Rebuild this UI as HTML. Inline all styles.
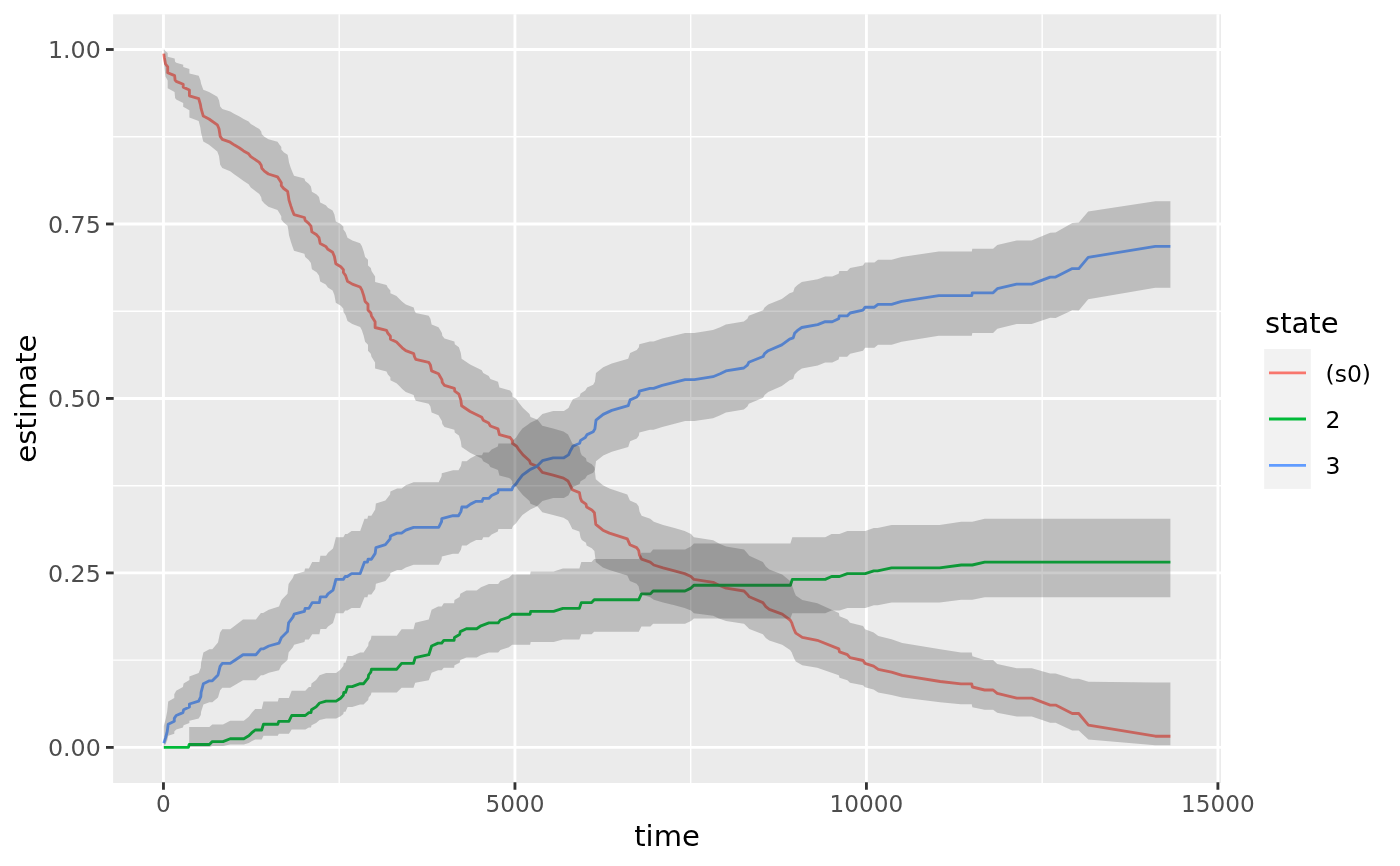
<!DOCTYPE html>
<html><head><meta charset="utf-8"><title>plot</title>
<style>
html,body{margin:0;padding:0;background:#fff;}
body{width:1400px;height:866px;overflow:hidden;}
svg{display:block;}
text{font-family:"DejaVu Sans","Liberation Sans",sans-serif;}
.tk{font-size:23.47px;fill:#4d4d4d;}
.lg{font-size:23.47px;fill:#000;}
.ti{font-size:29.33px;fill:#000;}
</style></head><body>
<svg width="1400" height="866" viewBox="0 0 1400 866">
<rect x="0" y="0" width="1400" height="866" fill="#ffffff"/>
<rect x="113.1" y="14.3" width="1107.9" height="768.6500000000001" fill="#ebebeb"/>
<line x1="113.1" x2="1221.0" y1="660.16" y2="660.16" stroke="#fff" stroke-width="1.42"/>
<line x1="113.1" x2="1221.0" y1="485.69" y2="485.69" stroke="#fff" stroke-width="1.42"/>
<line x1="113.1" x2="1221.0" y1="311.21" y2="311.21" stroke="#fff" stroke-width="1.42"/>
<line x1="113.1" x2="1221.0" y1="136.74" y2="136.74" stroke="#fff" stroke-width="1.42"/>
<line y1="14.3" y2="782.95" x1="339.20" x2="339.20" stroke="#fff" stroke-width="1.42"/>
<line y1="14.3" y2="782.95" x1="690.68" x2="690.68" stroke="#fff" stroke-width="1.42"/>
<line y1="14.3" y2="782.95" x1="1042.16" x2="1042.16" stroke="#fff" stroke-width="1.42"/>
<line x1="113.1" x2="1221.0" y1="747.40" y2="747.40" stroke="#fff" stroke-width="2.85"/>
<line x1="113.1" x2="1221.0" y1="572.92" y2="572.92" stroke="#fff" stroke-width="2.85"/>
<line x1="113.1" x2="1221.0" y1="398.45" y2="398.45" stroke="#fff" stroke-width="2.85"/>
<line x1="113.1" x2="1221.0" y1="223.98" y2="223.98" stroke="#fff" stroke-width="2.85"/>
<line x1="113.1" x2="1221.0" y1="49.50" y2="49.50" stroke="#fff" stroke-width="2.85"/>
<line y1="14.3" y2="782.95" x1="163.46" x2="163.46" stroke="#fff" stroke-width="2.85"/>
<line y1="14.3" y2="782.95" x1="514.94" x2="514.94" stroke="#fff" stroke-width="2.85"/>
<line y1="14.3" y2="782.95" x1="866.42" x2="866.42" stroke="#fff" stroke-width="2.85"/>
<line y1="14.3" y2="782.95" x1="1217.90" x2="1217.90" stroke="#fff" stroke-width="2.85"/>
<path d="M163.8,53.6 L164.3,57.2 L165.5,64.0 L167.7,66.9 L167.7,72.7 L174.6,75.6 L175.1,80.1 L176.2,81.4 L183.2,84.3 L183.2,87.1 L189.4,90.0 L189.4,95.8 L198.7,98.7 L200.4,104.5 L201.1,108.7 L203.3,116.1 L209.0,119.0 L217.3,124.8 L219.0,128.8 L220.2,136.4 L222.3,139.3 L230.2,142.2 L234.5,145.1 L239.5,148.0 L243.6,150.9 L248.6,153.8 L250.8,156.6 L259.3,162.4 L261.2,165.3 L261.8,168.2 L264.4,171.1 L268.4,174.0 L277.5,176.9 L279.4,179.8 L281.3,182.7 L281.3,185.6 L283.7,188.5 L287.6,191.4 L288.4,195.9 L289.0,200.1 L290.8,205.9 L292.3,210.2 L294.0,214.6 L304.4,217.5 L305.2,220.4 L308.7,223.3 L310.9,226.1 L311.9,231.9 L316.6,234.8 L319.0,237.7 L320.2,243.5 L325.8,246.4 L327.9,249.3 L332.6,252.2 L334.4,256.5 L335.8,263.8 L340.8,266.7 L343.4,269.6 L343.4,272.5 L345.5,275.4 L347.5,281.2 L352.3,284.1 L360.1,287.0 L361.8,289.9 L363.7,295.6 L365.1,301.4 L368.0,304.3 L368.0,310.1 L370.8,313.0 L371.5,315.9 L375.1,321.7 L375.1,327.5 L386.5,330.4 L387.9,333.3 L390.4,336.2 L390.4,339.1 L396.5,342.0 L399.4,344.9 L402.2,347.8 L405.8,350.7 L413.7,353.6 L414.4,356.5 L415.8,359.4 L428.7,362.3 L430.4,365.1 L431.6,370.9 L438.5,373.8 L440.2,376.7 L441.9,379.6 L442.3,382.5 L444.5,385.4 L454.4,388.3 L454.8,391.2 L458.9,394.1 L460.8,399.9 L461.6,405.7 L470.1,411.5 L481.8,417.3 L483.2,420.2 L488.7,423.1 L490.4,426.0 L498.0,428.9 L499.4,434.6 L510.1,437.5 L512.3,440.4 L512.3,443.3 L516.6,446.2 L518.4,449.1 L523.0,454.9 L529.5,460.7 L530.5,463.6 L537.6,466.5 L542.3,472.3 L553.1,475.2 L563.5,478.1 L568.0,481.0 L570.0,484.8 L572.3,489.7 L579.4,492.6 L580.5,498.4 L581.8,501.3 L586.0,504.1 L586.6,507.0 L591.8,509.9 L594.4,512.8 L595.8,524.4 L602.9,530.2 L609.4,533.1 L627.3,538.9 L629.9,544.7 L636.6,547.6 L638.7,550.5 L639.5,555.2 L641.6,559.2 L650.2,562.1 L653.8,565.0 L663.1,567.9 L674.5,570.8 L684.6,573.6 L691.0,576.5 L693.9,579.4 L713.2,582.3 L718.9,585.2 L726.1,588.1 L744.0,591.0 L746.9,593.9 L749.3,596.8 L762.9,602.6 L765.8,606.6 L769.3,609.4 L782.2,614.2 L790.1,620.0 L791.8,622.9 L792.7,625.8 L794.4,630.2 L795.8,633.1 L802.3,637.4 L817.3,640.3 L838.8,648.9 L839.5,651.8 L847.4,654.7 L850.0,657.6 L863.1,660.5 L865.0,663.4 L873.6,666.1 L878.3,669.4 L891.5,672.2 L902.2,675.4 L940.2,681.5 L960.9,683.9 L971.7,683.9 L972.4,687.0 L984.6,690.0 L993.1,690.0 L997.2,693.3 L1016.8,698.1 L1031.8,698.1 L1050.2,705.1 L1055.6,705.1 L1072.2,713.5 L1078.7,713.5 L1088.4,725.2 L1155.3,736.2 L1170.4,736.2" fill="none" stroke="#F8766D" stroke-width="2.85" stroke-linejoin="round" stroke-linecap="butt"/>
<path d="M163.8,747.4 L188.4,747.4 L189.2,744.5 L209.4,744.5 L212.3,741.6 L223.0,741.6 L230.2,738.7 L243.8,738.7 L248.8,735.8 L251.6,732.9 L255.2,730.0 L261.7,730.0 L263.5,724.2 L277.8,724.2 L278.8,721.3 L288.9,721.3 L291.7,715.5 L305.3,715.5 L308.9,712.6 L311.0,712.6 L311.5,709.8 L316.1,706.9 L319.6,703.0 L326.1,701.1 L336.1,701.1 L340.6,698.2 L343.3,695.3 L343.8,692.4 L345.5,692.4 L347.6,686.6 L352.2,686.6 L360.1,683.7 L363.6,683.7 L365.8,680.8 L368.2,677.9 L368.6,675.0 L370.8,672.1 L371.5,669.2 L396.8,669.2 L401.6,663.4 L413.5,663.4 L415.2,657.6 L428.8,654.7 L431.6,646.0 L438.1,643.1 L441.7,643.1 L443.8,640.3 L454.1,640.3 L454.5,637.4 L459.6,634.5 L460.3,631.6 L466.4,628.7 L476.7,628.7 L481.0,625.8 L488.9,622.9 L498.2,622.9 L500.4,620.0 L508.9,617.1 L512.2,614.2 L530.1,614.2 L530.7,611.3 L553.6,611.3 L562.9,608.4 L579.4,608.4 L581.3,602.6 L591.6,602.6 L594.2,599.7 L638.8,599.7 L641.4,593.9 L650.4,593.9 L653.1,591.0 L685.0,591.0 L691.0,588.1 L693.9,585.2 L790.4,585.2 L792.3,579.4 L825.2,579.4 L831.6,576.5 L839.5,576.5 L847.4,573.6 L865.3,573.6 L873.8,570.8 L877.6,570.8 L891.6,567.9 L939.6,567.9 L961.3,565.0 L972.3,565.0 L984.7,562.1 L1170.4,562.1" fill="none" stroke="#00BA38" stroke-width="2.85" stroke-linejoin="round" stroke-linecap="butt"/>
<path d="M163.8,743.2 L165.7,737.4 L167.2,731.6 L168.2,724.2 L174.3,721.3 L174.3,718.4 L176.2,715.5 L182.9,712.6 L183.6,709.8 L189.4,706.9 L189.4,704.0 L198.7,701.1 L200.8,696.6 L201.1,692.4 L203.4,683.7 L209.4,680.8 L212.3,680.8 L218.0,675.0 L220.1,666.3 L222.3,663.4 L230.2,663.4 L234.5,660.5 L243.0,654.7 L255.9,654.7 L260.9,648.9 L263.1,648.9 L268.8,646.0 L279.0,643.1 L281.5,637.4 L287.5,631.6 L288.6,622.9 L292.9,617.1 L294.1,614.2 L304.4,611.3 L305.1,608.4 L308.9,608.4 L312.2,602.6 L319.4,602.6 L320.4,596.8 L326.1,596.8 L328.0,593.9 L333.0,590.1 L334.4,585.2 L335.9,579.4 L343.3,579.4 L345.2,576.5 L347.3,576.5 L351.6,573.6 L360.2,573.6 L364.5,562.1 L367.4,562.1 L368.1,559.2 L371.4,559.2 L375.2,553.4 L375.9,547.6 L385.4,544.7 L390.1,538.9 L390.4,536.0 L397.1,533.1 L401.6,533.1 L405.8,530.2 L413.6,527.3 L438.7,527.3 L441.6,521.5 L441.8,518.6 L453.0,515.7 L458.5,515.7 L460.9,511.6 L461.9,507.0 L466.6,507.0 L470.5,504.1 L476.2,501.3 L482.0,501.3 L483.3,498.4 L488.8,498.4 L491.6,495.5 L497.8,492.6 L498.4,489.7 L511.8,489.7 L513.0,486.8 L516.1,483.9 L518.8,479.8 L522.4,475.2 L528.1,471.0 L530.3,469.4 L536.7,466.5 L542.4,460.7 L553.2,457.8 L563.9,457.8 L568.5,454.9 L570.7,450.2 L572.9,446.2 L579.6,443.3 L580.6,440.4 L585.3,437.5 L587.1,434.6 L593.2,431.8 L594.9,428.9 L596.0,420.2 L603.2,414.4 L611.8,410.4 L628.2,405.7 L630.1,399.9 L636.8,397.0 L638.9,394.1 L639.3,391.2 L650.0,388.3 L653.6,388.3 L662.2,385.4 L685.1,379.6 L694.4,379.6 L713.0,376.7 L720.2,373.8 L725.9,370.9 L743.8,368.0 L747.4,365.1 L748.8,362.3 L763.1,356.5 L764.6,353.6 L768.2,350.7 L781.8,344.9 L789.6,339.1 L793.2,337.9 L794.6,333.3 L797.5,330.4 L801.8,327.5 L817.7,324.6 L825.2,321.7 L832.2,321.7 L838.6,318.8 L839.3,315.9 L847.2,315.9 L850.1,313.0 L863.0,310.1 L865.1,307.2 L874.4,307.2 L878.0,304.3 L891.6,304.3 L901.6,301.4 L938.8,295.6 L971.8,295.6 L972.3,292.8 L993.1,292.8 L997.3,288.7 L1016.6,284.1 L1031.6,284.1 L1050.2,277.1 L1055.6,277.1 L1072.3,268.6 L1078.8,268.6 L1088.2,257.3 L1155.3,246.3 L1170.4,246.3" fill="none" stroke="#619CFF" stroke-width="2.85" stroke-linejoin="round" stroke-linecap="butt"/>
<path d="M163.8,49.5 L164.3,49.5 L165.5,51.3 L167.7,53.0 L167.7,56.7 L174.6,58.6 L175.1,61.8 L176.2,62.7 L183.2,64.8 L183.2,66.9 L189.4,69.1 L189.4,73.5 L198.7,75.8 L200.4,80.3 L201.1,83.7 L203.3,89.7 L209.0,92.1 L217.3,96.8 L219.0,100.2 L220.2,106.6 L222.3,109.0 L230.2,111.5 L234.5,114.0 L239.5,116.5 L243.6,119.0 L248.6,121.5 L250.8,124.0 L259.3,129.1 L261.2,131.6 L261.8,134.2 L264.4,136.7 L268.4,139.3 L277.5,141.8 L279.4,144.4 L281.3,147.0 L281.3,149.6 L283.7,152.2 L287.6,154.8 L288.4,158.8 L289.0,162.6 L290.8,167.9 L292.3,171.8 L294.0,175.8 L304.4,178.4 L305.2,181.1 L308.7,183.7 L310.9,186.4 L311.9,191.7 L316.6,194.4 L319.0,197.1 L320.2,202.5 L325.8,205.2 L327.9,207.8 L332.6,210.5 L334.4,214.6 L335.8,221.4 L340.8,224.1 L343.4,226.8 L343.4,229.6 L345.5,232.3 L347.5,237.8 L352.3,240.5 L360.1,243.3 L361.8,246.0 L363.7,251.5 L365.1,257.0 L368.0,259.8 L368.0,265.4 L370.8,268.1 L371.5,270.9 L375.1,276.5 L375.1,282.1 L386.5,284.9 L387.9,287.7 L390.4,290.5 L390.4,293.3 L396.5,296.1 L399.4,298.9 L402.2,301.7 L405.8,304.5 L413.7,307.4 L414.4,310.2 L415.8,313.0 L428.7,315.8 L430.4,318.7 L431.6,324.4 L438.5,327.2 L440.2,330.0 L441.9,332.9 L442.3,335.7 L444.5,338.6 L454.4,341.5 L454.8,344.3 L458.9,347.2 L460.8,352.9 L461.6,358.7 L470.1,364.4 L481.8,370.2 L483.2,373.1 L488.7,376.0 L490.4,378.9 L498.0,381.8 L499.4,387.6 L510.1,390.5 L512.3,393.4 L512.3,396.4 L516.6,399.3 L518.4,402.2 L523.0,408.0 L529.5,413.9 L530.5,416.9 L537.6,419.8 L542.3,425.7 L553.1,428.6 L563.5,431.6 L568.0,434.5 L570.0,438.4 L572.3,443.4 L579.4,446.4 L580.5,452.4 L581.8,455.3 L586.0,458.3 L586.6,461.3 L591.8,464.3 L594.4,467.3 L595.8,479.3 L602.9,485.3 L609.4,488.4 L627.3,494.4 L629.9,500.5 L636.6,503.5 L638.7,506.6 L639.5,511.5 L641.6,515.7 L650.2,518.8 L653.8,521.8 L663.1,524.9 L674.5,528.0 L684.6,531.0 L691.0,534.1 L693.9,537.2 L713.2,540.3 L718.9,543.4 L726.1,546.5 L744.0,549.6 L746.9,552.7 L749.3,555.8 L762.9,562.1 L765.8,566.4 L769.3,569.4 L782.2,574.6 L790.1,581.0 L791.8,584.1 L792.7,587.3 L794.4,592.2 L795.8,595.4 L802.3,600.1 L817.3,603.3 L838.8,613.0 L839.5,616.2 L847.4,619.4 L850.0,622.7 L863.1,626.0 L865.0,629.2 L873.6,632.6 L878.3,636.0 L891.5,639.3 L902.2,642.9 L940.2,649.3 L960.9,652.5 L971.7,652.5 L972.4,656.2 L984.6,660.1 L993.1,660.1 L997.2,663.9 L1016.8,668.2 L1031.8,668.2 L1050.2,673.6 L1055.6,673.6 L1072.2,678.7 L1078.7,678.7 L1088.4,681.8 L1155.3,682.5 L1170.4,682.5 L1170.4,745.2 L1155.3,745.2 L1088.4,739.5 L1078.7,730.5 L1072.2,730.5 L1055.6,722.7 L1050.2,722.7 L1031.8,716.6 L1016.8,716.6 L997.2,712.7 L993.1,709.7 L984.6,709.7 L972.4,707.3 L971.7,704.2 L960.9,704.2 L940.2,702.3 L902.2,697.6 L891.5,695.1 L878.3,692.6 L873.6,689.4 L865.0,687.3 L863.1,685.2 L850.0,682.8 L847.4,680.3 L839.5,677.8 L838.8,675.3 L817.3,667.7 L802.3,665.2 L795.8,661.5 L794.4,658.9 L792.7,655.0 L791.8,652.4 L790.1,649.9 L782.2,644.7 L769.3,640.4 L765.8,637.9 L762.9,634.3 L749.3,629.0 L746.9,626.4 L744.0,623.8 L726.1,621.1 L718.9,618.5 L713.2,615.8 L693.9,613.2 L691.0,610.5 L684.6,607.9 L674.5,605.2 L663.1,602.5 L653.8,599.8 L650.2,597.2 L641.6,594.5 L639.5,590.8 L638.7,586.4 L636.6,583.7 L629.9,581.0 L627.3,575.6 L609.4,570.1 L602.9,567.4 L595.8,561.9 L594.4,551.0 L591.8,548.2 L586.6,545.5 L586.0,542.7 L581.8,540.0 L580.5,537.2 L579.4,531.6 L572.3,528.9 L570.0,524.2 L568.0,520.5 L563.5,517.7 L553.1,514.9 L542.3,512.2 L537.6,506.6 L530.5,503.7 L529.5,500.9 L523.0,495.3 L518.4,489.7 L516.6,486.9 L512.3,484.0 L512.3,481.2 L510.1,478.4 L499.4,475.5 L498.0,469.9 L490.4,467.0 L488.7,464.2 L483.2,461.3 L481.8,458.5 L470.1,452.7 L461.6,447.0 L460.8,441.3 L458.9,435.5 L454.8,432.6 L454.4,429.8 L444.5,426.9 L442.3,424.0 L441.9,421.1 L440.2,418.2 L438.5,415.3 L431.6,412.4 L430.4,406.6 L428.7,403.7 L415.8,400.8 L414.4,397.8 L413.7,394.9 L405.8,392.0 L402.2,389.1 L399.4,386.1 L396.5,383.2 L390.4,380.3 L390.4,377.3 L387.9,374.4 L386.5,371.4 L375.1,368.5 L375.1,362.6 L371.5,356.7 L370.8,353.7 L368.0,350.7 L368.0,344.8 L365.1,341.8 L363.7,335.8 L361.8,329.9 L360.1,326.9 L352.3,323.9 L347.5,320.9 L345.5,314.9 L343.4,311.8 L343.4,308.8 L340.8,305.8 L335.8,302.8 L334.4,295.1 L332.6,290.6 L327.9,287.6 L325.8,284.5 L320.2,281.5 L319.0,275.4 L316.6,272.3 L311.9,269.2 L310.9,263.1 L308.7,260.0 L305.2,256.9 L304.4,253.8 L294.0,250.7 L292.3,246.0 L290.8,241.4 L289.0,235.2 L288.4,230.6 L287.6,225.8 L283.7,222.6 L281.3,219.5 L281.3,216.3 L279.4,213.1 L277.5,210.0 L268.4,206.8 L264.4,203.6 L261.8,200.4 L261.2,197.2 L259.3,194.0 L250.8,187.6 L248.6,184.3 L243.6,181.1 L239.5,177.9 L234.5,174.6 L230.2,171.3 L222.3,168.1 L220.2,164.8 L219.0,156.1 L217.3,151.5 L209.0,144.8 L203.3,141.5 L201.1,132.8 L200.4,127.8 L198.7,120.9 L189.4,117.4 L189.4,110.3 L183.2,106.8 L183.2,103.1 L176.2,99.5 L175.1,97.9 L174.6,92.1 L167.7,88.3 L167.7,80.5 L165.5,76.4 L164.3,66.3 L163.8,60.3Z" fill="#333333" fill-opacity="0.25" stroke="none"/>
<path d="M189.2,726.9 L209.4,726.9 L212.3,724.4 L223.0,724.4 L230.2,720.7 L243.8,720.7 L248.8,716.8 L251.6,712.9 L255.2,709.1 L261.7,709.1 L263.5,701.6 L277.8,701.6 L278.8,697.9 L288.9,697.9 L291.7,690.7 L305.3,690.7 L308.9,687.1 L311.0,687.1 L311.5,683.5 L316.1,680.0 L319.6,675.3 L326.1,673.0 L336.1,673.0 L340.6,669.5 L343.3,666.1 L343.8,662.7 L345.5,662.7 L347.6,655.9 L352.2,655.9 L360.1,652.5 L363.6,652.5 L365.8,649.2 L368.2,645.8 L368.6,642.5 L370.8,639.2 L371.5,635.8 L396.8,635.8 L401.6,629.3 L413.5,629.3 L415.2,622.7 L428.8,619.4 L431.6,609.7 L438.1,606.5 L441.7,606.5 L443.8,603.3 L454.1,603.3 L454.5,600.1 L459.6,596.9 L460.3,593.7 L466.4,590.5 L476.7,590.5 L481.0,587.3 L488.9,584.1 L498.2,584.1 L500.4,581.0 L508.9,577.8 L512.2,574.6 L530.1,574.6 L530.7,571.5 L553.6,571.5 L562.9,568.4 L579.4,568.4 L581.3,562.1 L591.6,562.1 L594.2,559.0 L638.8,559.0 L641.4,552.7 L650.4,552.7 L653.1,549.6 L685.0,549.6 L691.0,546.5 L693.9,543.4 L790.4,543.4 L792.3,537.2 L825.2,537.2 L831.6,534.1 L839.5,534.1 L847.4,531.0 L865.3,531.0 L873.8,528.0 L877.6,528.0 L891.6,524.9 L939.6,524.9 L961.3,521.8 L972.3,521.8 L984.7,518.8 L1170.4,518.8 L1170.4,597.2 L984.7,597.2 L972.3,599.8 L961.3,599.8 L939.6,602.5 L891.6,602.5 L877.6,605.2 L873.8,605.2 L865.3,607.9 L847.4,607.9 L839.5,610.5 L831.6,610.5 L825.2,613.2 L792.3,613.2 L790.4,618.5 L693.9,618.5 L691.0,621.1 L685.0,623.8 L653.1,623.8 L650.4,626.4 L641.4,626.4 L638.8,631.7 L594.2,631.7 L591.6,634.3 L581.3,634.3 L579.4,639.5 L562.9,639.5 L553.6,642.1 L530.7,642.1 L530.1,644.7 L512.2,644.7 L508.9,647.3 L500.4,649.9 L498.2,652.4 L488.9,652.4 L481.0,655.0 L476.7,657.6 L466.4,657.6 L460.3,660.1 L459.6,662.7 L454.5,665.2 L454.1,667.7 L443.8,667.7 L441.7,670.3 L438.1,670.3 L431.6,672.8 L428.8,680.3 L415.2,682.8 L413.5,687.7 L401.6,687.7 L396.8,692.6 L371.5,692.6 L370.8,695.0 L368.6,697.4 L368.2,699.9 L365.8,702.2 L363.6,704.6 L360.1,704.6 L352.2,707.0 L347.6,707.0 L345.5,711.7 L343.8,711.7 L343.3,714.0 L340.6,716.3 L336.1,718.5 L326.1,718.5 L319.6,720.0 L316.1,723.0 L311.5,725.2 L311.0,727.4 L308.9,727.4 L305.3,729.5 L291.7,729.5 L288.9,733.7 L278.8,733.7 L277.8,735.7 L263.5,735.7 L261.7,739.5 L255.2,739.5 L251.6,741.3 L248.8,743.0 L243.8,744.6 L230.2,744.6 L223.0,745.9 L212.3,745.9 L209.4,747.0 L189.2,747.0Z" fill="#333333" fill-opacity="0.25" stroke="none"/>
<path d="M163.8,726.1 L165.7,718.9 L167.2,711.2 L168.2,701.6 L174.3,697.9 L174.3,694.3 L176.2,690.7 L182.9,687.1 L183.6,683.5 L189.4,680.0 L189.4,676.5 L198.7,673.0 L200.8,667.7 L201.1,662.7 L203.4,652.5 L209.4,649.2 L212.3,649.2 L218.0,642.5 L220.1,632.5 L222.3,629.3 L230.2,629.3 L234.5,626.0 L243.0,619.4 L255.9,619.4 L260.9,613.0 L263.1,613.0 L268.8,609.7 L279.0,606.5 L281.5,600.1 L287.5,593.7 L288.6,584.1 L292.9,577.8 L294.1,574.6 L304.4,571.5 L305.1,568.4 L308.9,568.4 L312.2,562.1 L319.4,562.1 L320.4,555.8 L326.1,555.8 L328.0,552.7 L333.0,548.6 L334.4,543.4 L335.9,537.2 L343.3,537.2 L345.2,534.1 L347.3,534.1 L351.6,531.0 L360.2,531.0 L364.5,518.8 L367.4,518.8 L368.1,515.7 L371.4,515.7 L375.2,509.6 L375.9,503.5 L385.4,500.5 L390.1,494.4 L390.4,491.4 L397.1,488.4 L401.6,488.4 L405.8,485.3 L413.6,482.3 L438.7,482.3 L441.6,476.3 L441.8,473.3 L453.0,470.3 L458.5,470.3 L460.9,466.0 L461.9,461.3 L466.6,461.3 L470.5,458.3 L476.2,455.3 L482.0,455.3 L483.3,452.4 L488.8,452.4 L491.6,449.4 L497.8,446.4 L498.4,443.4 L511.8,443.4 L513.0,440.5 L516.1,437.5 L518.8,433.3 L522.4,428.6 L528.1,424.4 L530.3,422.7 L536.7,419.8 L542.4,413.9 L553.2,411.0 L563.9,411.0 L568.5,408.0 L570.7,403.3 L572.9,399.3 L579.6,396.4 L580.6,393.4 L585.3,390.5 L587.1,387.6 L593.2,384.7 L594.9,381.8 L596.0,373.1 L603.2,367.3 L611.8,363.4 L628.2,358.7 L630.1,352.9 L636.8,350.1 L638.9,347.2 L639.3,344.3 L650.0,341.5 L653.6,341.5 L662.2,338.6 L685.1,332.9 L694.4,332.9 L713.0,330.0 L720.2,327.2 L725.9,324.4 L743.8,321.5 L747.4,318.7 L748.8,315.8 L763.1,310.2 L764.6,307.4 L768.2,304.5 L781.8,298.9 L789.6,293.3 L793.2,292.1 L794.6,287.7 L797.5,284.9 L801.8,282.1 L817.7,279.3 L825.2,276.5 L832.2,276.5 L838.6,273.7 L839.3,270.9 L847.2,270.9 L850.1,268.1 L863.0,265.4 L865.1,262.6 L874.4,262.6 L878.0,259.8 L891.6,259.8 L901.6,257.0 L938.8,251.5 L971.8,251.5 L972.3,248.8 L993.1,248.8 L997.3,244.9 L1016.6,240.5 L1031.6,240.5 L1050.2,232.8 L1055.6,232.4 L1072.3,223.1 L1078.8,222.6 L1088.2,211.4 L1155.3,201.2 L1170.4,201.2 L1170.4,287.7 L1155.3,287.7 L1088.2,299.3 L1078.8,310.6 L1072.3,310.2 L1055.6,318.0 L1050.2,317.7 L1031.6,323.9 L1016.6,323.9 L997.3,328.7 L993.1,332.9 L972.3,332.9 L971.8,335.8 L938.8,335.8 L901.6,341.8 L891.6,344.8 L878.0,344.8 L874.4,347.8 L865.1,347.8 L863.0,350.7 L850.1,353.7 L847.2,356.7 L839.3,356.7 L838.6,359.6 L832.2,362.6 L825.2,362.6 L817.7,365.5 L801.8,368.5 L797.5,371.4 L794.6,374.4 L793.2,379.1 L789.6,380.3 L781.8,386.1 L768.2,392.0 L764.6,394.9 L763.1,397.8 L748.8,403.7 L747.4,406.6 L743.8,409.5 L725.9,412.4 L720.2,415.3 L713.0,418.2 L694.4,421.1 L685.1,421.1 L662.2,426.9 L653.6,429.8 L650.0,429.8 L639.3,432.6 L638.9,435.5 L636.8,438.4 L630.1,441.3 L628.2,447.0 L611.8,451.7 L603.2,455.6 L596.0,461.3 L594.9,469.9 L593.2,472.7 L587.1,475.5 L585.3,478.4 L580.6,481.2 L579.6,484.0 L572.9,486.9 L570.7,490.7 L568.5,495.3 L563.9,498.1 L553.2,498.1 L542.4,500.9 L536.7,506.6 L530.3,509.4 L528.1,510.9 L522.4,514.9 L518.8,519.4 L516.1,523.3 L513.0,526.1 L511.8,528.9 L498.4,528.9 L497.8,531.6 L491.6,534.4 L488.8,537.2 L483.3,537.2 L482.0,540.0 L476.2,540.0 L470.5,542.7 L466.6,545.5 L461.9,545.5 L460.9,549.8 L458.5,553.7 L453.0,553.7 L441.8,556.5 L441.6,559.2 L438.7,564.7 L413.6,564.7 L405.8,567.4 L401.6,570.1 L397.1,570.1 L390.4,572.9 L390.1,575.6 L385.4,581.0 L375.9,583.7 L375.2,589.1 L371.4,594.5 L368.1,594.5 L367.4,597.2 L364.5,597.2 L360.2,607.9 L351.6,607.9 L347.3,610.5 L345.2,610.5 L343.3,613.2 L335.9,613.2 L334.4,618.5 L333.0,622.9 L328.0,626.4 L326.1,629.0 L320.4,629.0 L319.4,634.3 L312.2,634.3 L308.9,639.5 L305.1,639.5 L304.4,642.1 L294.1,644.7 L292.9,647.3 L288.6,652.4 L287.5,660.1 L281.5,665.2 L279.0,670.3 L268.8,672.8 L263.1,675.3 L260.9,675.3 L255.9,680.3 L243.0,680.3 L234.5,685.2 L230.2,687.7 L222.3,687.7 L220.1,690.2 L218.0,697.4 L212.3,702.2 L209.4,702.2 L203.4,704.6 L201.1,711.7 L200.8,715.0 L198.7,718.5 L189.4,720.8 L189.4,723.0 L183.6,725.2 L182.9,727.4 L176.2,729.5 L174.3,731.6 L174.3,733.7 L168.2,735.7 L167.2,740.5 L165.7,743.9 L163.8,746.6Z" fill="#333333" fill-opacity="0.25" stroke="none"/>
<line x1="106.00" x2="113.70" y1="747.40" y2="747.40" stroke="#333" stroke-width="2.85"/>
<text transform="translate(100.80,756.20) scale(1.012,1)" text-anchor="end" class="tk">0.00</text>
<line x1="106.00" x2="113.70" y1="572.92" y2="572.92" stroke="#333" stroke-width="2.85"/>
<text transform="translate(100.80,581.72) scale(1.012,1)" text-anchor="end" class="tk">0.25</text>
<line x1="106.00" x2="113.70" y1="398.45" y2="398.45" stroke="#333" stroke-width="2.85"/>
<text transform="translate(100.80,407.25) scale(1.012,1)" text-anchor="end" class="tk">0.50</text>
<line x1="106.00" x2="113.70" y1="223.98" y2="223.98" stroke="#333" stroke-width="2.85"/>
<text transform="translate(100.80,232.78) scale(1.012,1)" text-anchor="end" class="tk">0.75</text>
<line x1="106.00" x2="113.70" y1="49.50" y2="49.50" stroke="#333" stroke-width="2.85"/>
<text transform="translate(100.80,58.30) scale(1.012,1)" text-anchor="end" class="tk">1.00</text>
<line y1="782.25" y2="789.75" x1="163.46" x2="163.46" stroke="#333" stroke-width="2.85"/>
<text transform="translate(163.46,811.95) scale(0.988,1)" text-anchor="middle" class="tk">0</text>
<line y1="782.25" y2="789.75" x1="514.94" x2="514.94" stroke="#333" stroke-width="2.85"/>
<text transform="translate(514.94,811.95) scale(0.988,1)" text-anchor="middle" class="tk">5000</text>
<line y1="782.25" y2="789.75" x1="866.42" x2="866.42" stroke="#333" stroke-width="2.85"/>
<text transform="translate(866.42,811.95) scale(0.988,1)" text-anchor="middle" class="tk">10000</text>
<line y1="782.25" y2="789.75" x1="1217.90" x2="1217.90" stroke="#333" stroke-width="2.85"/>
<text transform="translate(1217.90,811.95) scale(0.988,1)" text-anchor="middle" class="tk">15000</text>
<text transform="translate(667.05,845.80) scale(0.992,0.95)" text-anchor="middle" class="ti">time</text>
<text transform="translate(35.70,398.62) rotate(-90) scale(0.995,0.95)" text-anchor="middle" class="ti">estimate</text>
<text transform="translate(1265.00,333.00) scale(0.992,0.94)" text-anchor="start" class="ti">state</text>
<rect x="1264.15" y="349.0" width="46.7" height="139.9" fill="#f2f2f2"/>
<line x1="1269.0" x2="1306.0" y1="372.85" y2="372.85" stroke="#F8766D" stroke-width="2.85"/>
<text x="1325.5" y="381.85" class="lg">(s0)</text>
<line x1="1269.0" x2="1306.0" y1="418.95" y2="418.95" stroke="#00BA38" stroke-width="2.85"/>
<text x="1325.5" y="427.95" class="lg">2</text>
<line x1="1269.0" x2="1306.0" y1="465.35" y2="465.35" stroke="#619CFF" stroke-width="2.85"/>
<text x="1325.5" y="474.35" class="lg">3</text>
</svg>
</body></html>
